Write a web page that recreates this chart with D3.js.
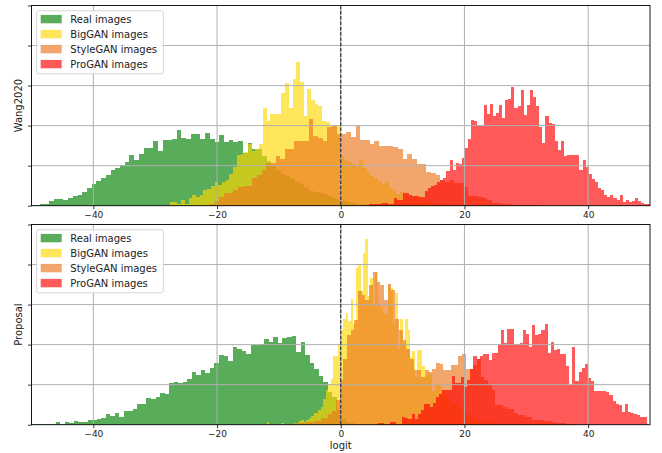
<!DOCTYPE html>
<html lang="en">
<head>
  <meta charset="UTF-8">
  <title>Logit histograms</title>
  <script src="https://d3js.org/d3.v7.min.js"></script>
  <style>
    body { margin: 0; background: #fff; }
    text { font-family: "DejaVu Sans", sans-serif; fill: #222; }
    .grid line { stroke: #b0b0b0; stroke-width: 1; }
  </style>
</head>
<body>
  <svg width="662" height="453"></svg>
  <script>
    // series names and colours, in drawing order
    const names = ["Real images", "BigGAN images", "StyleGAN images", "ProGAN images"];
    const colors = ["#008000", "#ffd700", "#eb761d", "#ff0000"];
    const alphas = [0.65, 0.65, 0.65, 0.65];

    const xTicks = [-40, -20, 0, 20, 40];
    const yTicks = [0, 40, 80, 120, 160, 200];

    // Wang2020 panel: bin start, bin width, counts
    const wangRealBins = [-50.2, 0.764];
    const wangReal = [1,1,2,2,5,7,7,6,8,10,11,14,18,22,25,28,31,36,38,41,44,51,46,52,58,58,65,55,66,66,67,76,68,67,72,72,67,73,67,64,71,64,66,64,65,53,63,57,57,50,45,40,36,32,30,27,24,22,18,15,14,13,12,10,8,6,5,4,3,2,2,1,1];
    const wangBigBins = [-27.6, 0.6];
    const wangBig = [4,4,2,6,2,8,11,9,11,16,17,20,24,21,24,26,32,39,51,52,54,62,55,57,62,98,85,92,92,92,113,123,98,127,144,124,90,117,106,102,100,85,84,80,80,80,50,46,44,42,40,46,38,34,30,28,25,22,24,18,16,12,14,10,9,8,10,6,5,4,4,3,3,2,2];
    const wangStyleBins = [-21.92, 0.76];
    const wangStyle = [1,2,5,9,13,13,16,19,20,20,28,31,36,43,43,50,47,57,57,65,65,65,87,70,68,65,79,80,72,72,74,69,80,66,66,62,65,60,60,60,59,57,47,52,47,42,42,34,33,31,26,24,26,23,23,19,10,10,9,8,6,3,3,2,2,1,1,1,1,1,1];
    const wangProBins = [4.59, 0.5];
    const wangPro = [1.5,1.5,1.5,1.5,2.5,2.5,1.5,1.5,8,6,6,13,13,11,10,10,9,9,15,18,20,21,24,26,28,35,46,36,43,42,48,58,67,86,85,81,80,101,92,102,90,93,101,88,106,107,119,98,100,116,91,101,116,109,100,79,63,90,83,82,65,56,65,50,51,51,51,51,36,46,39,32,27,24,18,16,11,9,11,8,6,11,4,6,4,5,8,5,3,2,2];

    // Proposal panel
    const propRealBins = [-50.47, 0.733];
    const propReal = [0.7,0.7,1,1,0.7,0.7,2.7,1,2.7,2,3.7,2.7,2.7,4.7,4.7,5.7,6.7,10.7,8.7,11.7,7.7,13.7,13.7,15.7,20.7,20.7,26.7,25.7,27.7,31.7,30.7,41.7,42.7,41.7,42.7,45.7,52.7,49.7,54.7,51.7,56.7,61.7,69.7,68.7,63.7,77.7,75.7,74,71,80,80,81,86,83,88,82,87,88,89,73,83,70,62,56,49,43,33,28,15,6,3,2,1];
    const propBigBins = [-12.0, 0.4];
    const propBig = [3,0,0,0,0,0,2,0,0,0,0,2,2,4,5,3,5,7,9,12,12,15,18,26,35,41,46,69,69,80,95,106,112,104,126,101,157,161,134,172,186,129,147,120,153,122,118,111,111,141,137,102,132,76,106,82,106,95,68,74,47,75,75,59,49,52,51,34,40,40,39,35,30,28,25,22,22,18,16,14,12,10,10,8,7,6,5,4,4,3,3,2,2,1,1];
    const propStyleBins = [-8.0, 0.6];
    const propStyle = [1,2,2,2,3,3,4,4,7,7,11,14,25,45,66,90,95,105,134,130,125,140,153,143,140,125,141,135,106,95,85,76,66,55,55,48,55,53,56,62,61,55,55,60,60,69,71,56,56,60,66,48,45,40,35,20,20,18,16,16,12,10,10,8,8,5,5,5,4,4,3,2,2,2,1,1,1];
    const propProBins = [5.95, 0.5];
    const propPro = [2,2,0.5,0.5,3,3,1,1,8,7,6,11,6,11,15,21,21,18,22,28,31,35,35,35,49,42,42,48,38,45,56,69,66,69,71,71,65,72,72,81,95,82,96,96,81,81,82,95,91,78,100,90,91,95,101,72,83,75,76,71,71,59,40,78,44,53,57,61,47,44,34,34,34,34,33,30,24,21,20,13,21,13,12,11,10,8,8];

    const panels = [
      { label: "Wang2020", top: 5.5, bottom: 205.7,
        series: [[wangRealBins, wangReal], [wangBigBins, wangBig], [wangStyleBins, wangStyle], [wangProBins, wangPro]] },
      { label: "Proposal", top: 224.5, bottom: 424.7,
        series: [[propRealBins, propReal], [propBigBins, propBig], [propStyleBins, propStyle], [propProBins, propPro]] }
    ];

    const svg = d3.select("svg");
    const x = d3.scaleLinear().domain([-50, 50]).range([31.5, 650]);
    const fmt = d => d < 0 ? "\u2212" + (-d) : String(d);

    panels.forEach((p, pi) => {
      const y = d3.scaleLinear().domain([0, 200]).range([p.bottom, p.top]);
      const g = svg.append("g");

      g.append("clipPath").attr("id", "clip" + pi)
        .append("rect")
          .attr("x", x(-50)).attr("y", p.top)
          .attr("width", x(50) - x(-50)).attr("height", p.bottom - p.top);

      // histogram bars
      const bars = g.append("g").attr("clip-path", `url(#clip${pi})`);
      p.series.forEach(([bins, counts], si) => {
        const [start, width] = bins;
        const data = counts.map((c, i) => ({ lo: start + i * width, hi: start + (i + 1) * width, c }))
          .filter(d => d.c > 0);
        bars.append("g")
            .attr("fill", colors[si])
            .attr("fill-opacity", alphas[si])
          .selectAll("rect")
          .data(data)
          .join("rect")
            .attr("shape-rendering", "crispEdges")
            .attr("x", d => x(d.lo))
            .attr("width", d => x(d.hi) - x(d.lo))
            .attr("y", d => y(d.c))
            .attr("height", d => y(0) - y(d.c));
      });

      // grid on top of bars
      const grid = g.append("g").attr("class", "grid");
      grid.selectAll("line.v").data(xTicks).join("line").attr("class", "v")
        .attr("x1", d => x(d)).attr("x2", d => x(d))
        .attr("y1", p.top).attr("y2", p.bottom);
      grid.selectAll("line.h").data(yTicks.slice(1, -1)).join("line").attr("class", "h")
        .attr("x1", x(-50)).attr("x2", x(50))
        .attr("y1", d => y(d)).attr("y2", d => y(d));

      // dashed zero line
      g.append("line")
        .attr("x1", x(0)).attr("x2", x(0))
        .attr("y1", p.top).attr("y2", p.bottom)
        .attr("stroke", "#222").attr("stroke-width", 1.1)
        .attr("stroke-dasharray", "3.7,1.6");

      // axes
      const xAxis = g.append("g")
        .attr("transform", `translate(0,${p.bottom})`)
        .call(d3.axisBottom(x).tickValues(xTicks).tickSize(3.5).tickPadding(2.5).tickFormat(fmt));
      const yAxis = g.append("g")
        .attr("transform", `translate(${x(-50)},0)`)
        .call(d3.axisLeft(y).tickValues(yTicks).tickSize(3.5).tickFormat(""));
      [xAxis, yAxis].forEach(a => {
        a.select(".domain").remove();
        a.attr("font-family", null).attr("font-size", 9);
        a.selectAll("line").attr("stroke", "#000").attr("stroke-width", 0.8);
      });

      // spines
      g.append("rect")
        .attr("x", x(-50)).attr("y", p.top)
        .attr("width", x(50) - x(-50)).attr("height", p.bottom - p.top)
        .attr("fill", "none").attr("stroke", "#000").attr("stroke-width", 0.9);

      // y label
      g.append("text")
        .attr("transform", `translate(22,${(p.top + p.bottom) / 2}) rotate(-90)`)
        .attr("text-anchor", "middle")
        .attr("font-size", 10)
        .text(p.label);

      // legend
      const lg = g.append("g").attr("transform", `translate(36.7,${p.top + 5.3})`);
      lg.append("rect")
        .attr("width", 126.6).attr("height", 63).attr("rx", 2)
        .attr("fill", "#fff").attr("fill-opacity", 0.85)
        .attr("stroke", "#cccccc").attr("stroke-width", 0.8);
      const items = lg.selectAll("g.item").data(names).join("g")
        .attr("class", "item")
        .attr("transform", (d, i) => `translate(0,${8.3 + i * 15})`);
      items.append("rect")
        .attr("x", 4).attr("y", -4.2).attr("width", 21).attr("height", 8.4)
        .attr("fill", (d, i) => colors[i]).attr("fill-opacity", (d, i) => alphas[i]);
      items.append("text")
        .attr("x", 33.6).attr("dy", "0.36em")
        .attr("font-size", 10)
        .text(d => d);
    });

    svg.append("text")
      .attr("x", x(0)).attr("y", 449)
      .attr("text-anchor", "middle")
      .attr("font-size", 10)
      .text("logit");
  </script>
</body>
</html>
